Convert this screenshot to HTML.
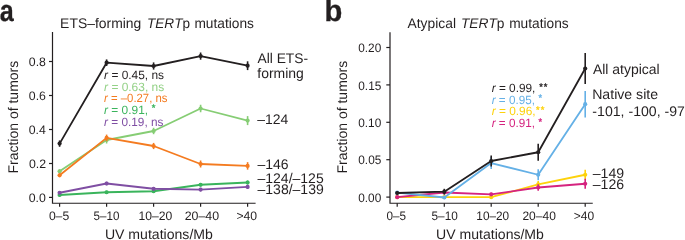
<!DOCTYPE html>
<html><head><meta charset="utf-8"><style>
html,body{margin:0;padding:0;background:#fff;}
body{width:685px;height:240px;overflow:hidden;}
svg{display:block;will-change:transform;}
text{font-family:"Liberation Sans",sans-serif;text-rendering:geometricPrecision;}
</style></head><body>
<svg width="685" height="240" viewBox="0 0 685 240">
<polyline points="59.60,195.00 106.60,192.25 153.60,191.25 200.60,184.75 247.60,182.50" fill="none" stroke="#3ab45c" stroke-width="1.8" stroke-linejoin="round"/><line x1="59.60" y1="193.50" x2="59.60" y2="196.50" stroke="#3ab45c" stroke-width="1.6"/><line x1="106.60" y1="190.75" x2="106.60" y2="193.75" stroke="#3ab45c" stroke-width="1.6"/><line x1="153.60" y1="189.75" x2="153.60" y2="192.75" stroke="#3ab45c" stroke-width="1.6"/><line x1="200.60" y1="182.95" x2="200.60" y2="186.55" stroke="#3ab45c" stroke-width="1.6"/><line x1="247.60" y1="180.50" x2="247.60" y2="184.50" stroke="#3ab45c" stroke-width="1.6"/><circle cx="59.60" cy="195.00" r="2.1" fill="#3ab45c"/><circle cx="106.60" cy="192.25" r="2.1" fill="#3ab45c"/><circle cx="153.60" cy="191.25" r="2.1" fill="#3ab45c"/><circle cx="200.60" cy="184.75" r="2.1" fill="#3ab45c"/><circle cx="247.60" cy="182.50" r="2.1" fill="#3ab45c"/>
<polyline points="59.60,192.75 106.60,183.50 153.60,188.75 200.60,189.60 247.60,186.90" fill="none" stroke="#7f4ea3" stroke-width="1.8" stroke-linejoin="round"/><line x1="59.60" y1="191.25" x2="59.60" y2="194.25" stroke="#7f4ea3" stroke-width="1.6"/><line x1="106.60" y1="181.70" x2="106.60" y2="185.30" stroke="#7f4ea3" stroke-width="1.6"/><line x1="153.60" y1="186.95" x2="153.60" y2="190.55" stroke="#7f4ea3" stroke-width="1.6"/><line x1="200.60" y1="187.80" x2="200.60" y2="191.40" stroke="#7f4ea3" stroke-width="1.6"/><line x1="247.60" y1="184.90" x2="247.60" y2="188.90" stroke="#7f4ea3" stroke-width="1.6"/><circle cx="59.60" cy="192.75" r="2.1" fill="#7f4ea3"/><circle cx="106.60" cy="183.50" r="2.1" fill="#7f4ea3"/><circle cx="153.60" cy="188.75" r="2.1" fill="#7f4ea3"/><circle cx="200.60" cy="189.60" r="2.1" fill="#7f4ea3"/><circle cx="247.60" cy="186.90" r="2.1" fill="#7f4ea3"/>
<polyline points="59.60,171.25 106.60,140.00 153.60,131.00 200.60,108.50 247.60,120.60" fill="none" stroke="#86cd74" stroke-width="1.8" stroke-linejoin="round"/><line x1="59.60" y1="169.25" x2="59.60" y2="173.25" stroke="#86cd74" stroke-width="1.6"/><line x1="106.60" y1="136.00" x2="106.60" y2="143.50" stroke="#86cd74" stroke-width="1.6"/><line x1="153.60" y1="127.80" x2="153.60" y2="134.20" stroke="#86cd74" stroke-width="1.6"/><line x1="200.60" y1="104.75" x2="200.60" y2="112.25" stroke="#86cd74" stroke-width="1.6"/><line x1="247.60" y1="116.10" x2="247.60" y2="125.10" stroke="#86cd74" stroke-width="1.6"/><circle cx="59.60" cy="171.25" r="2.1" fill="#86cd74"/><circle cx="106.60" cy="140.00" r="2.1" fill="#86cd74"/><circle cx="153.60" cy="131.00" r="2.1" fill="#86cd74"/><circle cx="200.60" cy="108.50" r="2.1" fill="#86cd74"/><circle cx="247.60" cy="120.60" r="2.1" fill="#86cd74"/>
<polyline points="59.60,175.25 106.60,137.90 153.60,146.00 200.60,164.00 247.60,165.90" fill="none" stroke="#f47b20" stroke-width="1.8" stroke-linejoin="round"/><line x1="59.60" y1="173.25" x2="59.60" y2="177.25" stroke="#f47b20" stroke-width="1.6"/><line x1="106.60" y1="134.60" x2="106.60" y2="141.20" stroke="#f47b20" stroke-width="1.6"/><line x1="153.60" y1="142.90" x2="153.60" y2="149.10" stroke="#f47b20" stroke-width="1.6"/><line x1="200.60" y1="160.50" x2="200.60" y2="167.50" stroke="#f47b20" stroke-width="1.6"/><line x1="247.60" y1="162.15" x2="247.60" y2="169.65" stroke="#f47b20" stroke-width="1.6"/><circle cx="59.60" cy="175.25" r="2.1" fill="#f47b20"/><circle cx="106.60" cy="137.90" r="2.1" fill="#f47b20"/><circle cx="153.60" cy="146.00" r="2.1" fill="#f47b20"/><circle cx="200.60" cy="164.00" r="2.1" fill="#f47b20"/><circle cx="247.60" cy="165.90" r="2.1" fill="#f47b20"/>
<polyline points="59.60,143.60 106.60,62.70 153.60,66.00 200.60,56.10 247.60,65.70" fill="none" stroke="#231f20" stroke-width="1.8" stroke-linejoin="round"/><line x1="59.60" y1="140.40" x2="59.60" y2="146.80" stroke="#231f20" stroke-width="1.6"/><line x1="106.60" y1="59.40" x2="106.60" y2="66.00" stroke="#231f20" stroke-width="1.6"/><line x1="153.60" y1="62.40" x2="153.60" y2="69.60" stroke="#231f20" stroke-width="1.6"/><line x1="200.60" y1="52.50" x2="200.60" y2="59.70" stroke="#231f20" stroke-width="1.6"/><line x1="247.60" y1="61.30" x2="247.60" y2="70.10" stroke="#231f20" stroke-width="1.6"/><circle cx="59.60" cy="143.60" r="2.1" fill="#231f20"/><circle cx="106.60" cy="62.70" r="2.1" fill="#231f20"/><circle cx="153.60" cy="66.00" r="2.1" fill="#231f20"/><circle cx="200.60" cy="56.10" r="2.1" fill="#231f20"/><circle cx="247.60" cy="65.70" r="2.1" fill="#231f20"/>
<path d="M52.5,32.1 V203.25 H255.6" fill="none" stroke="#231f20" stroke-width="1.2"/>
<line x1="49" y1="61.5" x2="52.5" y2="61.5" stroke="#231f20" stroke-width="1.2"/>
<line x1="49" y1="95.5" x2="52.5" y2="95.5" stroke="#231f20" stroke-width="1.2"/>
<line x1="49" y1="129.5" x2="52.5" y2="129.5" stroke="#231f20" stroke-width="1.2"/>
<line x1="49" y1="163.5" x2="52.5" y2="163.5" stroke="#231f20" stroke-width="1.2"/>
<line x1="49" y1="197.4" x2="52.5" y2="197.4" stroke="#231f20" stroke-width="1.2"/>
<line x1="59.6" y1="203.25" x2="59.6" y2="206.7" stroke="#231f20" stroke-width="1.2"/>
<line x1="106.6" y1="203.25" x2="106.6" y2="206.7" stroke="#231f20" stroke-width="1.2"/>
<line x1="153.6" y1="203.25" x2="153.6" y2="206.7" stroke="#231f20" stroke-width="1.2"/>
<line x1="200.6" y1="203.25" x2="200.6" y2="206.7" stroke="#231f20" stroke-width="1.2"/>
<line x1="247.6" y1="203.25" x2="247.6" y2="206.7" stroke="#231f20" stroke-width="1.2"/>
<polyline points="397.20,197.20 444.30,197.20 491.20,197.20 538.20,184.40 585.20,174.75" fill="none" stroke="#fdd20c" stroke-width="1.8" stroke-linejoin="round"/><line x1="538.20" y1="180.90" x2="538.20" y2="187.90" stroke="#fdd20c" stroke-width="1.6"/><line x1="585.20" y1="169.75" x2="585.20" y2="179.75" stroke="#fdd20c" stroke-width="1.6"/><circle cx="397.20" cy="197.20" r="2.1" fill="#fdd20c"/><circle cx="444.30" cy="197.20" r="2.1" fill="#fdd20c"/><circle cx="491.20" cy="197.20" r="2.1" fill="#fdd20c"/><circle cx="538.20" cy="184.40" r="2.1" fill="#fdd20c"/><circle cx="585.20" cy="174.75" r="2.1" fill="#fdd20c"/>
<polyline points="397.20,197.20 444.30,192.50 491.20,194.30 538.20,187.50 585.20,183.75" fill="none" stroke="#d5237f" stroke-width="1.8" stroke-linejoin="round"/><line x1="444.30" y1="191.00" x2="444.30" y2="194.00" stroke="#d5237f" stroke-width="1.6"/><line x1="491.20" y1="192.80" x2="491.20" y2="195.80" stroke="#d5237f" stroke-width="1.6"/><line x1="538.20" y1="184.25" x2="538.20" y2="190.75" stroke="#d5237f" stroke-width="1.6"/><line x1="585.20" y1="178.75" x2="585.20" y2="188.75" stroke="#d5237f" stroke-width="1.6"/><circle cx="397.20" cy="197.20" r="2.1" fill="#d5237f"/><circle cx="444.30" cy="192.50" r="2.1" fill="#d5237f"/><circle cx="491.20" cy="194.30" r="2.1" fill="#d5237f"/><circle cx="538.20" cy="187.50" r="2.1" fill="#d5237f"/><circle cx="585.20" cy="183.75" r="2.1" fill="#d5237f"/>
<polyline points="397.20,192.70 444.30,197.50 491.20,163.10 538.20,174.75 585.20,104.20" fill="none" stroke="#64b0e6" stroke-width="1.8" stroke-linejoin="round"/><line x1="397.20" y1="191.20" x2="397.20" y2="194.20" stroke="#64b0e6" stroke-width="1.6"/><line x1="444.30" y1="196.00" x2="444.30" y2="199.00" stroke="#64b0e6" stroke-width="1.6"/><line x1="491.20" y1="157.10" x2="491.20" y2="169.10" stroke="#64b0e6" stroke-width="1.6"/><line x1="538.20" y1="169.25" x2="538.20" y2="180.25" stroke="#64b0e6" stroke-width="1.6"/><line x1="585.20" y1="90.90" x2="585.20" y2="117.50" stroke="#64b0e6" stroke-width="1.6"/><circle cx="397.20" cy="192.70" r="2.1" fill="#64b0e6"/><circle cx="444.30" cy="197.50" r="2.1" fill="#64b0e6"/><circle cx="491.20" cy="163.10" r="2.1" fill="#64b0e6"/><circle cx="538.20" cy="174.75" r="2.1" fill="#64b0e6"/><circle cx="585.20" cy="104.20" r="2.1" fill="#64b0e6"/>
<polyline points="397.20,193.00 444.30,191.70 491.20,161.00 538.20,152.25 585.20,68.50" fill="none" stroke="#231f20" stroke-width="1.8" stroke-linejoin="round"/><line x1="397.20" y1="191.50" x2="397.20" y2="194.50" stroke="#231f20" stroke-width="1.6"/><line x1="444.30" y1="188.80" x2="444.30" y2="194.60" stroke="#231f20" stroke-width="1.6"/><line x1="491.20" y1="155.40" x2="491.20" y2="166.60" stroke="#231f20" stroke-width="1.6"/><line x1="538.20" y1="143.85" x2="538.20" y2="160.65" stroke="#231f20" stroke-width="1.6"/><line x1="585.20" y1="52.90" x2="585.20" y2="84.10" stroke="#231f20" stroke-width="1.6"/><circle cx="397.20" cy="193.00" r="2.1" fill="#231f20"/><circle cx="444.30" cy="191.70" r="2.1" fill="#231f20"/><circle cx="491.20" cy="161.00" r="2.1" fill="#231f20"/><circle cx="538.20" cy="152.25" r="2.1" fill="#231f20"/><circle cx="585.20" cy="68.50" r="2.1" fill="#231f20"/>
<path d="M390,32.2 V203.25 H592.75" fill="none" stroke="#231f20" stroke-width="1.2"/>
<line x1="386.3" y1="47.5" x2="390" y2="47.5" stroke="#231f20" stroke-width="1.2"/>
<line x1="386.3" y1="84.9" x2="390" y2="84.9" stroke="#231f20" stroke-width="1.2"/>
<line x1="386.3" y1="122.3" x2="390" y2="122.3" stroke="#231f20" stroke-width="1.2"/>
<line x1="386.3" y1="159.7" x2="390" y2="159.7" stroke="#231f20" stroke-width="1.2"/>
<line x1="386.3" y1="197.1" x2="390" y2="197.1" stroke="#231f20" stroke-width="1.2"/>
<line x1="397.2" y1="203.25" x2="397.2" y2="206.7" stroke="#231f20" stroke-width="1.2"/>
<line x1="444.3" y1="203.25" x2="444.3" y2="206.7" stroke="#231f20" stroke-width="1.2"/>
<line x1="491.2" y1="203.25" x2="491.2" y2="206.7" stroke="#231f20" stroke-width="1.2"/>
<line x1="538.2" y1="203.25" x2="538.2" y2="206.7" stroke="#231f20" stroke-width="1.2"/>
<line x1="585.2" y1="203.25" x2="585.2" y2="206.7" stroke="#231f20" stroke-width="1.2"/>
<text transform="translate(-0.236,20.600) scale(0.82941,1)" y="0" font-size="30.3" fill="#231f20" font-weight="bold" stroke="#231f20" stroke-width="0.3"><tspan x="0.00">a</tspan></text>
<text transform="translate(324.377,20.600) scale(0.96278,1)" y="0" font-size="30.3" fill="#231f20" font-weight="bold" stroke="#231f20" stroke-width="0.3"><tspan x="0.00">b</tspan></text>
<text transform="translate(60.108,27.600) scale(0.99441,1)" y="0" font-size="14" fill="#231f20"><tspan x="0.00 9.34 17.89 27.23 35.01 38.90 46.69 51.35 63.01 66.12 73.91">ETS–forming</tspan></text>
<text transform="translate(147.030,27.600) scale(0.96959,1)" y="0" font-size="14" fill="#231f20"><tspan x="0.00 8.55 17.89 28.00" font-style="italic">TERT</tspan><tspan x="36.55">p</tspan></text>
<text transform="translate(194.439,27.600) scale(0.97957,1)" y="0" font-size="14" fill="#231f20"><tspan x="0.00 11.66 19.45 23.34 31.12 35.01 38.12 45.91 53.70">mutations</tspan></text>
<text transform="translate(407.573,27.600) scale(0.98738,1)" y="0" font-size="14" fill="#231f20"><tspan x="0.00 9.34 13.23 20.23 28.01 31.12 38.12 45.91">Atypical</tspan></text>
<text transform="translate(460.916,27.600) scale(0.98136,1)" y="0" font-size="14" fill="#231f20"><tspan x="0.00 8.55 17.89 28.00" font-style="italic">TERT</tspan><tspan x="36.55">p</tspan></text>
<text transform="translate(509.139,27.600) scale(0.98041,1)" y="0" font-size="14" fill="#231f20"><tspan x="0.00 11.66 19.45 23.34 31.12 35.01 38.12 45.91 53.70">mutations</tspan></text>
<text transform="translate(28.836,66.000)" y="0" font-size="12.3" fill="#231f20"><tspan x="0.00 6.84 10.26">0.8</tspan></text>
<text transform="translate(28.842,100.000)" y="0" font-size="12.3" fill="#231f20"><tspan x="0.00 6.84 10.26">0.6</tspan></text>
<text transform="translate(28.662,134.000)" y="0" font-size="12.3" fill="#231f20"><tspan x="0.00 6.84 10.26">0.4</tspan></text>
<text transform="translate(28.920,168.000)" y="0" font-size="12.3" fill="#231f20"><tspan x="0.00 6.84 10.26">0.2</tspan></text>
<text transform="translate(28.782,201.900)" y="0" font-size="12.3" fill="#231f20"><tspan x="0.00 6.84 10.26">0.0</tspan></text>
<text transform="translate(358.279,52.200) scale(0.96000,1)" y="0" font-size="12.3" fill="#231f20"><tspan x="0.00 6.84 10.26 17.10">0.20</tspan></text>
<text transform="translate(358.314,89.600) scale(0.96000,1)" y="0" font-size="12.3" fill="#231f20"><tspan x="0.00 6.84 10.26 17.10">0.15</tspan></text>
<text transform="translate(358.279,127.000) scale(0.96000,1)" y="0" font-size="12.3" fill="#231f20"><tspan x="0.00 6.84 10.26 17.10">0.10</tspan></text>
<text transform="translate(358.314,164.400) scale(0.96000,1)" y="0" font-size="12.3" fill="#231f20"><tspan x="0.00 6.84 10.26 17.10">0.05</tspan></text>
<text transform="translate(358.279,201.800) scale(0.96000,1)" y="0" font-size="12.3" fill="#231f20"><tspan x="0.00 6.84 10.26 17.10">0.00</tspan></text>
<text transform="translate(48.875,219.600) scale(0.98847,1)" y="0" font-size="12.3" fill="#231f20"><tspan x="0.00 6.84 13.68">0–5</tspan></text>
<text transform="translate(93.585,219.600) scale(0.94355,1)" y="0" font-size="12.3" fill="#231f20"><tspan x="0.00 6.84 13.68 20.52">5–10</tspan></text>
<text transform="translate(138.524,219.600) scale(0.98823,1)" y="0" font-size="12.3" fill="#231f20"><tspan x="0.00 6.84 13.68 20.52 27.36">10–20</tspan></text>
<text transform="translate(184.728,219.600) scale(1.00591,1)" y="0" font-size="12.3" fill="#231f20"><tspan x="0.00 6.84 13.68 20.52 27.36">20–40</tspan></text>
<text transform="translate(236.449,219.600) scale(0.99104,1)" y="0" font-size="12.3" fill="#231f20"><tspan x="0.00 7.18 14.02">&gt;40</tspan></text>
<text transform="translate(386.592,219.600) scale(0.95262,1)" y="0" font-size="12.3" fill="#231f20"><tspan x="0.00 6.84 13.68">0–5</tspan></text>
<text transform="translate(431.578,219.600) scale(0.95871,1)" y="0" font-size="12.3" fill="#231f20"><tspan x="0.00 6.84 13.68 20.52">5–10</tspan></text>
<text transform="translate(476.353,219.600) scale(0.95773,1)" y="0" font-size="12.3" fill="#231f20"><tspan x="0.00 6.84 13.68 20.52 27.36">10–20</tspan></text>
<text transform="translate(522.446,219.600) scale(0.97570,1)" y="0" font-size="12.3" fill="#231f20"><tspan x="0.00 6.84 13.68 20.52 27.36">20–40</tspan></text>
<text transform="translate(573.758,219.600) scale(0.97587,1)" y="0" font-size="12.3" fill="#231f20"><tspan x="0.00 7.18 14.02">&gt;40</tspan></text>
<text transform="translate(104.914,239.200) scale(1.00564,1)" y="0" font-size="14" fill="#231f20"><tspan x="0.00 10.11 19.45 23.34 35.00 42.79 46.68 54.46 58.35 61.46 69.25 77.03 84.03 87.92 99.59">UV mutations/Mb</tspan></text>
<text transform="translate(436.116,239.200) scale(1.00375,1)" y="0" font-size="14" fill="#231f20"><tspan x="0.00 10.11 19.45 23.34 35.00 42.79 46.68 54.46 58.35 61.46 69.25 77.03 84.03 87.92 99.59">UV mutations/Mb</tspan></text>
<text transform="translate(18.200,173.548) rotate(-90)" y="0" font-size="14" fill="#231f20"><tspan x="0.00 8.55 13.21 21.00 28.00 31.89 35.00 42.79 50.57 54.46 62.25 66.14 70.03 73.92 81.70 93.37 101.15 105.81">Fraction of tumors</tspan></text>
<text transform="translate(347.200,173.548) rotate(-90)" y="0" font-size="14" fill="#231f20"><tspan x="0.00 8.55 13.21 21.00 28.00 31.89 35.00 42.79 50.57 54.46 62.25 66.14 70.03 73.92 81.70 93.37 101.15 105.81">Fraction of tumors</tspan></text>
<text transform="translate(257.473,63.000) scale(0.98642,1)" y="0" font-size="14" fill="#231f20"><tspan x="0.00 9.34 12.45 15.56 19.45 28.79 37.34 46.68">All ETS-</tspan></text>
<text transform="translate(257.302,78.000) scale(0.99820,1)" y="0" font-size="14" fill="#231f20"><tspan x="0.00 3.89 11.68 16.34 28.00 31.11 38.90">forming</tspan></text>
<text transform="translate(257.300,123.750) scale(0.99563,1)" y="0" font-size="14" fill="#231f20"><tspan x="0.00 7.79 15.57 23.36">–124</tspan></text>
<text transform="translate(257.500,169.200) scale(0.99904,1)" y="0" font-size="14" fill="#231f20"><tspan x="0.00 7.79 15.57 23.36">–146</tspan></text>
<text transform="translate(257.500,182.750) scale(1.00014,1)" y="0" font-size="14" fill="#231f20"><tspan x="0.00 7.79 15.57 23.36 31.14 35.03 42.82 50.61 58.39">–124/–125</tspan></text>
<text transform="translate(257.500,194.400) scale(1.00129,1)" y="0" font-size="14" fill="#231f20"><tspan x="0.00 7.79 15.57 23.36 31.14 35.03 42.82 50.61 58.39">–138/–139</tspan></text>
<text transform="translate(592.973,74.000) scale(0.99692,1)" y="0" font-size="14" fill="#231f20"><tspan x="0.00 9.34 12.45 15.56 19.45 27.23 31.12 38.12 45.91 49.02 56.02 63.81">All atypical</tspan></text>
<text transform="translate(592.141,99.200) scale(1.00963,1)" y="0" font-size="14" fill="#231f20"><tspan x="0.00 10.11 17.90 21.79 24.90 31.90 39.68 43.57 50.57 53.68 57.57">Native site</tspan></text>
<text transform="translate(592.373,116.300) scale(1.00765,1)" y="0" font-size="14" fill="#231f20"><tspan x="0.00 4.66 12.45 20.23 28.02 31.91 35.80 40.46 48.25 56.03 63.82 67.71 71.60 76.26 84.05">-101, -100, -97</tspan></text>
<text transform="translate(592.750,177.500) scale(1.00881,1)" y="0" font-size="14" fill="#231f20"><tspan x="0.00 7.79 15.57 23.36">–149</tspan></text>
<text transform="translate(592.750,189.400) scale(1.00723,1)" y="0" font-size="14" fill="#231f20"><tspan x="0.00 7.79 15.57 23.36">–126</tspan></text>
<text transform="translate(104.102,78.900) scale(0.99270,1)" y="0" font-size="12" fill="#231f20"><tspan x="0.00" font-style="italic">r</tspan><tspan x="4.00 7.33 14.34 17.67 24.35 27.68 34.35 41.03 44.36 47.70 54.37"> = 0.45, ns</tspan></text>
<text transform="translate(104.102,91.000) scale(0.99437,1)" y="0" font-size="12" fill="#93d186"><tspan x="0.00" font-style="italic">r</tspan><tspan x="4.00 7.33 14.34 17.67 24.35 27.68 34.35 41.03 44.36 47.70 54.37"> = 0.63, ns</tspan></text>
<text transform="translate(104.112,102.300) scale(0.94413,1)" y="0" font-size="12" fill="#f47b20"><tspan x="0.00" font-style="italic">r</tspan><tspan x="4.00 7.33 14.34 17.67 24.35 31.02 34.35 41.03 47.70 51.04 54.37 61.04"> = –0.27, ns</tspan></text>
<text transform="translate(104.103,113.600) scale(0.99079,1)" y="0" font-size="12" fill="#3ab45c"><tspan x="0.00" font-style="italic">r</tspan><tspan x="4.00 7.33 14.34 17.67 24.35 27.68 34.35 41.03 44.36"> = 0.91, </tspan><tspan x="48.18" dy="-2.3" font-size="9.5" stroke="#3ab45c" stroke-width="0.35">*</tspan></text>
<text transform="translate(104.104,125.600) scale(0.98265,1)" y="0" font-size="12" fill="#7f4ea3"><tspan x="0.00" font-style="italic">r</tspan><tspan x="4.00 7.33 14.34 17.67 24.35 27.68 34.35 41.03 44.36 47.70 54.37"> = 0.19, ns</tspan></text>
<text transform="translate(491.704,91.900) scale(0.98502,1)" y="0" font-size="12" fill="#231f20"><tspan x="0.00" font-style="italic">r</tspan><tspan x="4.00 7.33 14.34 17.67 24.35 27.68 34.35 41.03 44.36"> = 0.99, </tspan><tspan x="48.18 52.85" dy="-2.3" font-size="9.5" stroke="#231f20" stroke-width="0.35">**</tspan></text>
<text transform="translate(491.706,103.500) scale(0.97348,1)" y="0" font-size="12" fill="#64b0e6"><tspan x="0.00" font-style="italic">r</tspan><tspan x="4.00 7.33 14.34 17.67 24.35 27.68 34.35 41.03 44.36"> = 0.95, </tspan><tspan x="48.18" dy="-2.3" font-size="9.5" stroke="#64b0e6" stroke-width="0.35">*</tspan></text>
<text transform="translate(491.703,115.000) scale(0.98847,1)" y="0" font-size="12" fill="#fdd20c"><tspan x="0.00" font-style="italic">r</tspan><tspan x="4.00 7.33 14.34 17.67 24.35 27.68 34.35 41.03"> = 0.96,</tspan><tspan x="44.85 49.52" dy="-2.3" font-size="9.5" stroke="#fdd20c" stroke-width="0.35">**</tspan></text>
<text transform="translate(491.706,127.000) scale(0.97348,1)" y="0" font-size="12" fill="#d5237f"><tspan x="0.00" font-style="italic">r</tspan><tspan x="4.00 7.33 14.34 17.67 24.35 27.68 34.35 41.03 44.36"> = 0.91, </tspan><tspan x="48.18" dy="-2.3" font-size="9.5" stroke="#d5237f" stroke-width="0.35">*</tspan></text>
</svg>
</body></html>
